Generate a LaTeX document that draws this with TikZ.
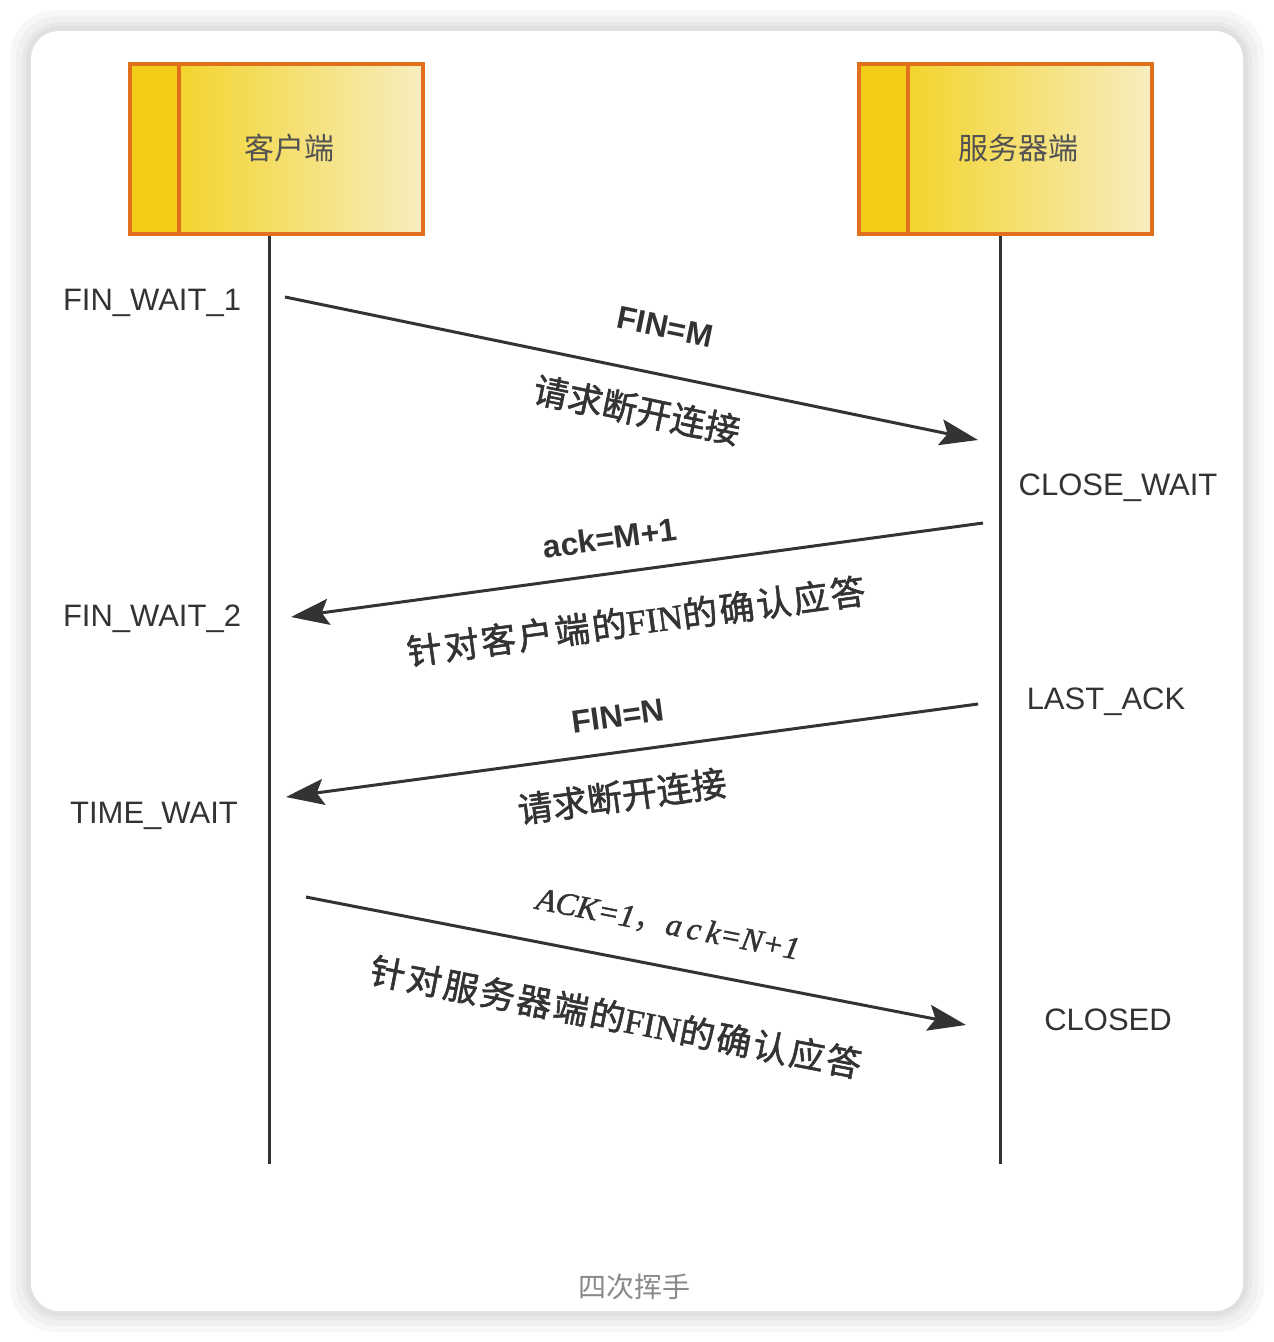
\documentclass[tikz,border=0pt]{standalone}
\usepackage{fontspec}
\setmainfont{Liberation Sans}
\newfontfamily\cjk{Noto Sans CJK SC}
\newfontfamily\cjknote[FakeBold=1.6]{Noto Sans CJK SC}
\newfontfamily\latinserif{Liberation Serif}
\newfontfamily\latinnote[FakeBold=1.4]{Liberation Serif}
\usetikzlibrary{arrows.meta}
\newcommand\ngap{\hspace{2.3pt}}

\definecolor{ink}{HTML}{333333}
\definecolor{boxedge}{HTML}{E0701C}
\definecolor{stripe}{HTML}{F2CD18}
\definecolor{shadeL}{HTML}{F3D42E}
\definecolor{shadeR}{HTML}{F7EDC0}
\definecolor{captiongray}{HTML}{8A8A8A}

\tikzset{
  actorstripe/.style={fill=stripe, draw=boxedge, line width=3.5pt},
  actorbody/.style={left color=shadeL, right color=shadeR, draw=boxedge, line width=3.5pt},
  actorname/.style={font=\cjk\fontsize{30}{36}\selectfont, text=ink!85},
  lifeline/.style={draw=ink, line width=3pt},
  msg/.style={draw=ink, line width=3pt, -{Stealth[length=38pt,width=26pt,inset=7pt]}},
  statelbl/.style={font=\fontsize{31}{37}\selectfont, text=ink, inner sep=0pt},
  msgtag/.style={font=\bfseries\fontsize{32}{38}\selectfont, text=ink, inner sep=0pt},
  msgnote/.style={font=\cjknote\fontsize{35}{40}\selectfont, text=ink, inner sep=0pt},
}

\begin{document}
\begin{tikzpicture}[x=1pt,y=-1pt]
\useasboundingbox (0,0) rectangle (1274,1342);
\fill[white] (0,0) rectangle (1274,1342);

% soft frame around the card
\fill[black!3, rounded corners=46pt] (10,10) rectangle (1264,1332);
\fill[black!6, rounded corners=42pt] (16,16) rectangle (1258,1326);
\fill[black!9, rounded corners=38pt] (22,22) rectangle (1252,1320);
\fill[black!12, rounded corners=34pt] (26,26) rectangle (1248,1316);
\fill[white, rounded corners=28pt] (31,31) rectangle (1243,1311);

% actors
\filldraw[actorstripe] (130,64) rectangle (179,234);
\filldraw[actorbody] (179,64) rectangle (423,234);
\node[actorname] (client) at (289,148) {客户端};
\filldraw[actorstripe] (859,64) rectangle (908,234);
\filldraw[actorbody] (908,64) rectangle (1152,234);
\node[actorname] (server) at (1018,148) {服务器端};

% lifelines
\coordinate (ctop) at (269,236);
\coordinate (cbot) at (269,1164);
\coordinate (stop) at (1000,236);
\coordinate (sbot) at (1000,1164);
\draw[lifeline] (ctop) -- (cbot);
\draw[lifeline] (stop) -- (sbot);

% states
\node[statelbl] (fw1) at (152,303) {FIN\_WAIT\_1};
\node[statelbl] (fw2) at (152,619) {FIN\_WAIT\_2};
\node[statelbl] (tw)  at (154,816) {TIME\_WAIT};
\node[statelbl] (cw)  at (1118,488) {CLOSE\_WAIT};
\node[statelbl] (la)  at (1106,702) {LAST\_ACK};
\node[statelbl] (cl)  at (1108,1020) {CLOSED};

% message end points
\coordinate (m1a) at (285,297);
\coordinate (m1b) at (978,440);
\coordinate (m2a) at (983,523);
\coordinate (m2b) at (291,617);
\coordinate (m3a) at (978,704);
\coordinate (m3b) at (286,797);
\coordinate (m4a) at (306,897);
\coordinate (m4b) at (966,1025);

\draw[msg] (m1a) -- (m1b);
\draw[msg] (m2a) -- (m2b);
\draw[msg] (m3a) -- (m3b);
\draw[msg] (m4a) -- (m4b);

% message labels
\node[msgtag, rotate=-11.7] (t1) at (665,327) {FIN=M};
\node[msgnote, rotate=-11.7] (n1) at (637,410) {请求断开连接};

\node[msgtag, rotate=7.7] (t2) at (610,538) {ack=M+1};
\node[msgnote, rotate=7.7] (n2) at (636,621) {针\ngap 对\ngap 客\ngap 户\ngap 端\ngap 的{\latinnote FIN}的\ngap 确\ngap 认\ngap 应\ngap 答};

\node[msgtag, rotate=7.7] (t3) at (618,716) {FIN=N};
\node[msgnote, rotate=7.7] (n3) at (622,796) {请求断开连接};

\node[font=\latinnote\itshape\fontsize{32}{38}\selectfont, text=ink, inner sep=0pt, rotate=-11] (t4) at (668,925) {ACK=1{\cjk ，}a\,c\,k=N+1};
\node[msgnote, rotate=-11] (n4) at (616,1017) {针\ngap 对\ngap 服\ngap 务\ngap 器\ngap 端\ngap 的{\latinnote FIN}的\ngap 确\ngap 认\ngap 应\ngap 答};

% caption
\node[font=\cjk\fontsize{28}{34}\selectfont, text=captiongray] (cap) at (634,1287) {四次挥手};
\end{tikzpicture}
\end{document}
